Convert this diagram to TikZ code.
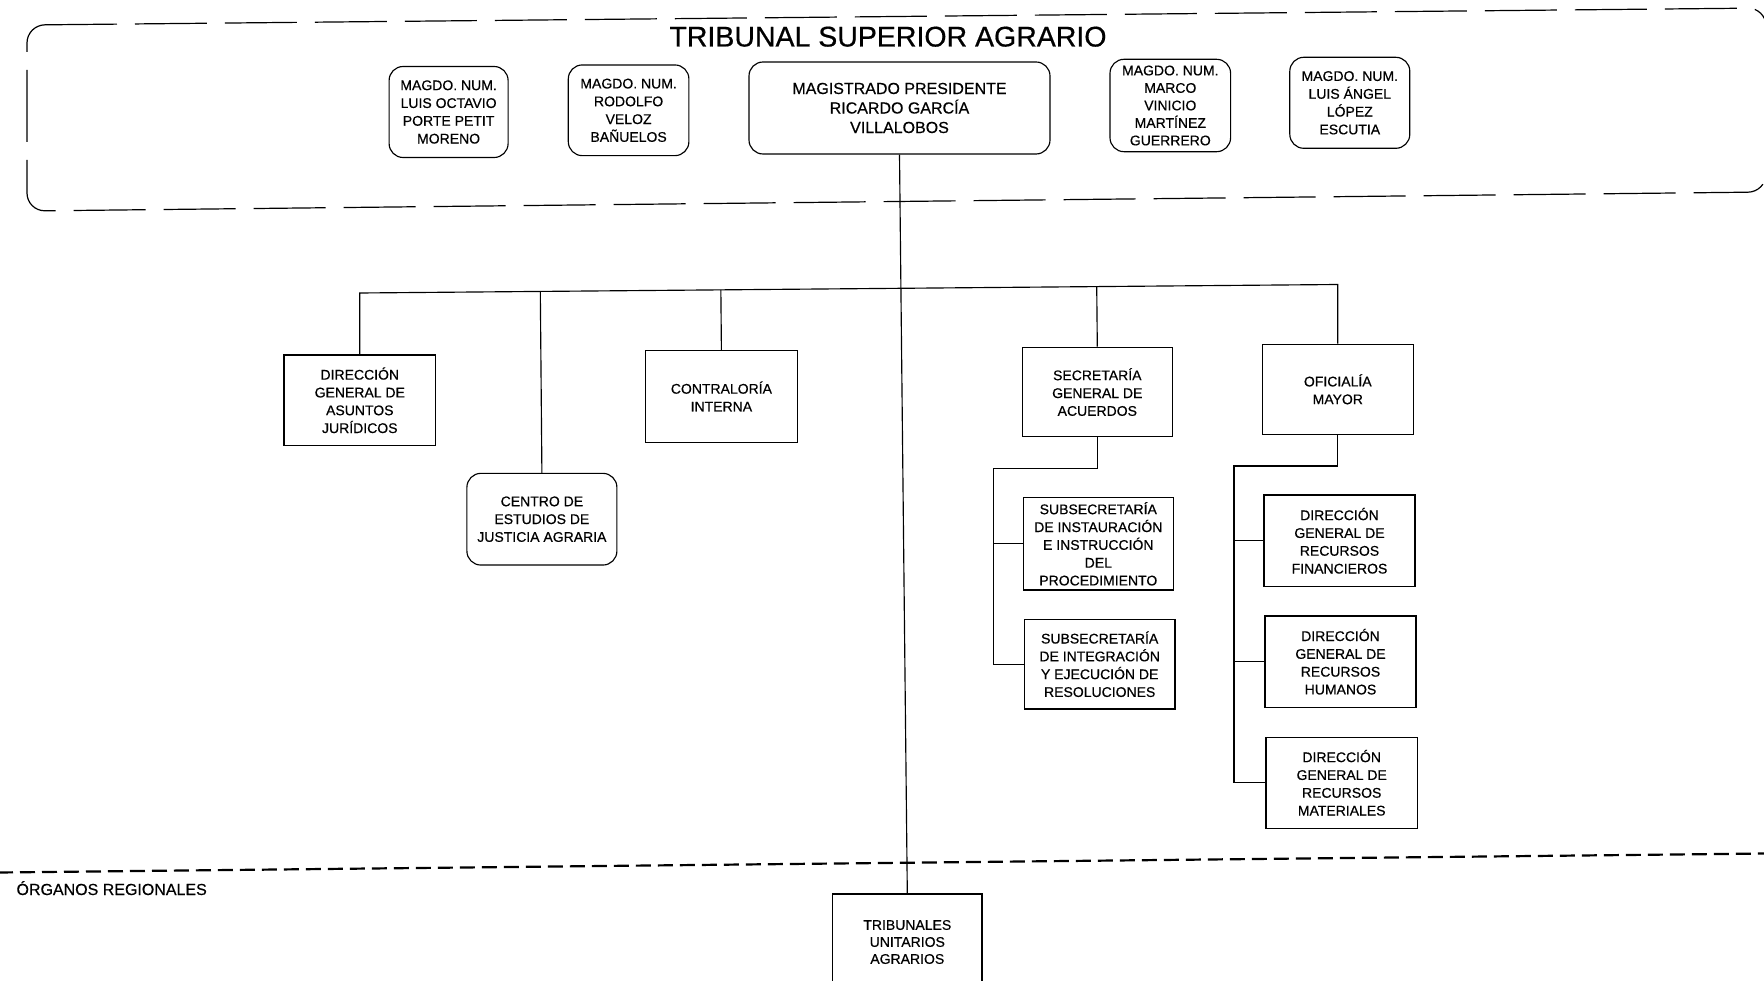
\documentclass[tikz,border=0pt]{standalone}
\usepackage{fontspec}
\setmainfont[FakeBold=0.5]{Liberation Sans}
\newfontfamily\titlefont[FakeBold=0.6]{Liberation Sans}
\usetikzlibrary{calc}
\tikzset{
  box/.style={draw, line width=1.15pt, inner sep=0pt, align=center,
    font=\fontsize{14}{17.8}\selectfont},
  rbox/.style={box, rounded corners=14pt, font=\fontsize{14}{17.8}\selectfont},
  conn/.style={line width=1.15pt},
  frameline/.style={line width=1.2pt, rounded corners=18pt, dash pattern=on 72pt off 18pt},
  sepline/.style={line width=2.2pt, dash pattern=on 15pt off 7pt},
}
\begin{document}
\begin{tikzpicture}[x=1pt,y=-1pt]
\useasboundingbox (0,0) rectangle (1764,981);
% outer frame of the Tribunal Superior Agrario
\draw[frameline] (27,25) -- (1766,8) -- (1766,192) -- (27,211) -- cycle;
\node[anchor=base, font=\titlefont\fontsize{28.5}{34}\selectfont] (title) at (888,46.5) {TRIBUNAL SUPERIOR AGRARIO};

% magistrados
\node[rbox, minimum width=119pt, minimum height=91pt] (m1) at (448.6,112) {MAGDO. NUM.\\LUIS OCTAVIO\\PORTE PETIT\\MORENO};
\node[rbox, minimum width=120.6pt, minimum height=90.7pt] (m2) at (628.6,110.3) {MAGDO. NUM.\\RODOLFO\\VELOZ\\BAÑUELOS};
\node[rbox, minimum width=301pt, minimum height=92pt, font=\fontsize{16}{19.5}\selectfont] (pres) at (899.5,108) {MAGISTRADO PRESIDENTE\\RICARDO GARCÍA\\VILLALOBOS};
\node[rbox, minimum width=120.6pt, minimum height=92.4pt, font=\fontsize{14}{17.5}\selectfont] (m3) at (1170.3,105.5) {MAGDO. NUM.\\MARCO\\VINICIO\\MARTÍNEZ\\GUERRERO};
\node[rbox, minimum width=120pt, minimum height=91pt] (m4) at (1349.8,102.8) {MAGDO. NUM.\\LUIS ÁNGEL\\LÓPEZ\\ESCUTIA};

% first level
\node[box, minimum width=151.7pt, minimum height=90.7pt] (dgaj) at (359.8,400.3) {DIRECCIÓN\\GENERAL DE\\ASUNTOS\\JURÍDICOS};
\node[rbox, minimum width=150pt, minimum height=91.7pt] (cej) at (541.9,519.2) {CENTRO DE\\ESTUDIOS DE\\JUSTICIA AGRARIA};
\node[box, minimum width=152.6pt, minimum height=91.7pt] (ci) at (721.4,396.5) {CONTRALORÍA\\INTERNA};
\node[box, minimum width=150pt, minimum height=89.4pt] (sga) at (1097.3,392) {SECRETARÍA\\GENERAL DE\\ACUERDOS};
\node[box, minimum width=151pt, minimum height=90pt] (om) at (1337.8,389.3) {OFICIALÍA\\MAYOR};

% second level
\node[box, minimum width=150pt, minimum height=92.3pt] (sub1) at (1098.3,543.8) {SUBSECRETARÍA\\DE INSTAURACIÓN\\E INSTRUCCIÓN\\DEL\\PROCEDIMIENTO};
\node[box, minimum width=150.7pt, minimum height=89.7pt] (sub2) at (1099.7,664.2) {SUBSECRETARÍA\\DE INTEGRACIÓN\\Y EJECUCIÓN DE\\RESOLUCIONES};
\node[box, minimum width=151pt, minimum height=91.7pt] (rf) at (1339.5,540.8) {DIRECCIÓN\\GENERAL DE\\RECURSOS\\FINANCIEROS};
\node[box, minimum width=151pt, minimum height=91.3pt] (rh) at (1340.5,661.7) {DIRECCIÓN\\GENERAL DE\\RECURSOS\\HUMANOS};
\node[box, minimum width=151.3pt, minimum height=91pt] (rm) at (1341.7,782.8) {DIRECCIÓN\\GENERAL DE\\RECURSOS\\MATERIALES};

% regional
\draw[sepline] (-2,872.5) -- (1766,853.5);
\node[anchor=base west, font=\fontsize{16}{19}\selectfont] (org) at (13,895) {ÓRGANOS REGIONALES};
\node[box, minimum width=149.3pt, minimum height=96pt, font=\fontsize{14}{17}\selectfont] (tua) at (907.3,942) {TRIBUNALES\\UNITARIOS\\AGRARIOS};

% connectors
\coordinate (busL) at (359.8,293);
\coordinate (busR) at (1337.8,284.5);
\draw[conn] (pres.south) -- (tua.north);
\draw[conn] (dgaj.north) -- (busL) -- (busR) -- (om.north);
\draw[conn] (cej.north) -- ($(busL)!(cej.north)!(busR)$);
\draw[conn] (ci.north) -- ($(busL)!(ci.north)!(busR)$);
\draw[conn] (sga.north) -- ($(busL)!(sga.north)!(busR)$);

\coordinate (sgaK) at (993.3,468.3);
\draw[conn] (sga.south) -- (sga.south |- sgaK) -- (sgaK) -- (sgaK |- sub2.west) -- (sub2.west);
\draw[conn] (sgaK |- sub1.west) -- (sub1.west);

\coordinate (omK) at (1234,466);
\draw[conn] (om.south) -- (om.south |- omK) -- (omK) -- (omK |- rm.west) -- (rm.west);
\draw[conn] (omK |- rf.west) -- (rf.west);
\draw[conn] (omK |- rh.west) -- (rh.west);
\end{tikzpicture}
\end{document}
